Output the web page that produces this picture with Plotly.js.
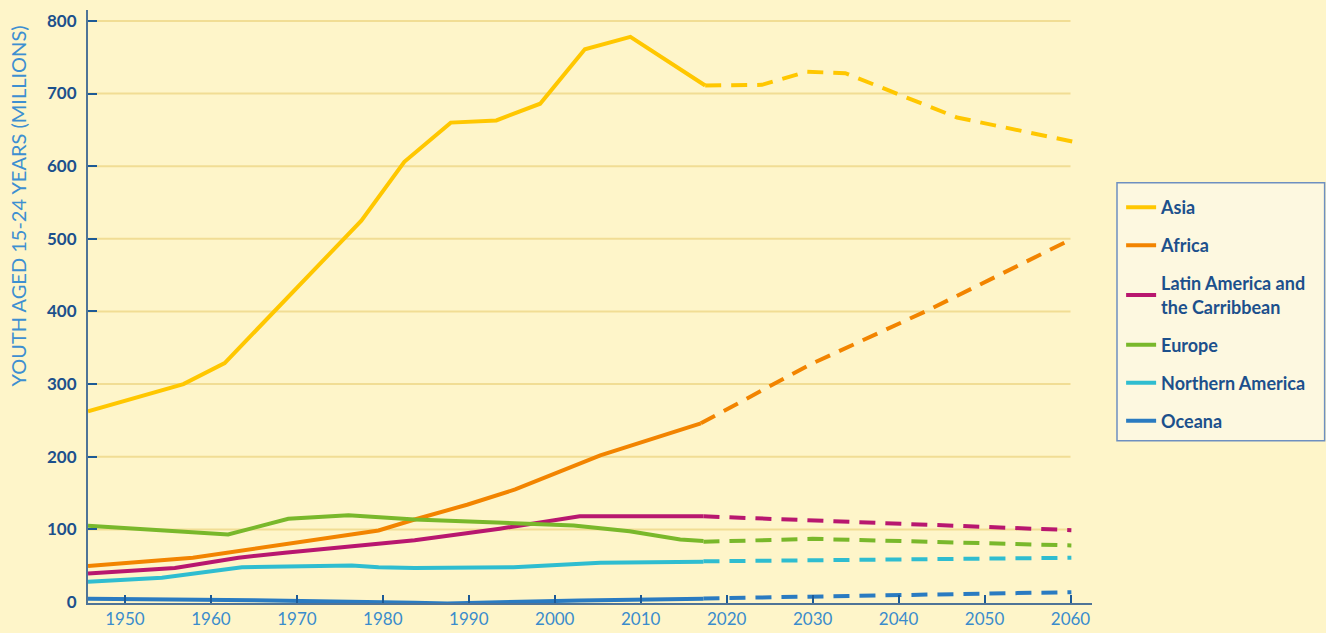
<!DOCTYPE html>
<html>
<head>
<meta charset="utf-8">
<script src="https://cdn.plot.ly/plotly-3.0.1.min.js"></script>
<style>
  html, body { margin: 0; padding: 0; background: #fef5c9; }
  #chart { width: 1326px; height: 633px; }
</style>
</head>
<body>
<div id="chart"></div>
<script>
// ---- Data ----
const regions = ["Asia", "Africa", "Latin America and<br>the Carribbean", "Europe", "Northern America", "Oceana"];
const colors = ["#ffc700", "#f28400", "#b8176f", "#79b82b", "#2fbdd0", "#2a7bc1"];

// Estimates (solid lines)
const asiaYears   = [1945.7, 1956.8, 1961.6, 1977.5, 1982.5, 1987.9, 1993.2, 1998.3, 2003.5, 2008.8, 2017.5];
const asiaVals    = [262.6, 300, 329, 525, 606, 660, 663, 686, 761, 778, 711];
const africaYears = [1945.7, 1957.9, 1979.5, 1983.7, 1989.8, 1995.4, 2005.3, 2017.0];
const africaVals  = [49.5, 61, 98.5, 113.6, 134, 155, 202, 246];
const latamYears  = [1945.7, 1955.8, 1963.2, 1968.6, 1983.7, 1993.6, 2002.9, 2017.3];
const latamVals   = [39.3, 47, 61, 68, 85, 101, 118, 118];
const europeYears = [1945.7, 1962.0, 1969.0, 1976.0, 1983.7, 1993.6, 2002.2, 2008.7, 2014.6, 2017.3];
const europeVals  = [105, 93, 114.6, 119.5, 113.6, 109, 105.4, 97.5, 86, 84];
const namYears    = [1945.7, 1954.3, 1963.6, 1976.4, 1979.5, 1983.7, 1995.2, 2005.3, 2017.3];
const namVals     = [28, 33.4, 48, 50.3, 48, 47, 48, 54, 55.4];
const oceYears    = [1945.7, 1965.0, 1983.7, 1987.5, 2002.9, 2017.3];
const oceVals     = [4.5, 2.5, -1, -2, 2.2, 4.5];

// Projections (dashed lines)
const asiaProjYears   = [2017.5, 2024.1, 2029.3, 2033.8, 2046.8, 2060.2];
const asiaProjVals    = [711, 712, 730, 728, 667, 634];
const africaProjYears = [2017.0, 2029.7, 2043.3, 2060.2];
const africaProjVals  = [246, 327, 401, 500];
const latamProjYears  = [2017.3, 2060.1];
const latamProjVals   = [118, 99];
const europeProjYears = [2017.3, 2030.0, 2060.1];
const europeProjVals  = [83, 87, 78];
const namProjYears    = [2017.3, 2060.1];
const namProjVals     = [56, 61];
const oceProjYears    = [2017.3, 2060.1];
const oceProjVals     = [5, 13.6];

const xTicks = [1950, 1960, 1970, 1980, 1990, 2000, 2010, 2020, 2030, 2040, 2050, 2060];
const yTicks = [0, 100, 200, 300, 400, 500, 600, 700, 800];

const solid = [[asiaYears, asiaVals], [africaYears, africaVals], [latamYears, latamVals],
               [europeYears, europeVals], [namYears, namVals], [oceYears, oceVals]];
const proj  = [[asiaProjYears, asiaProjVals], [africaProjYears, africaProjVals], [latamProjYears, latamProjVals],
               [europeProjYears, europeProjVals], [namProjYears, namProjVals], [oceProjYears, oceProjVals]];

const traces = [];
regions.forEach((name, i) => {
  traces.push({
    x: solid[i][0], y: solid[i][1], name: name, type: "scatter", mode: "lines",
    line: { color: colors[i], width: 4 }, legendgroup: "g" + i, legendrank: i + 1,
    hoverinfo: "skip"
  });
  traces.push({
    x: proj[i][0], y: proj[i][1], name: name, type: "scatter", mode: "lines",
    line: { color: colors[i], width: 4, dash: "16px,10px" }, legendgroup: "g" + i,
    showlegend: false, hoverinfo: "skip"
  });
});

const gridShapes = yTicks.filter(v => v > 0).map(v => ({
  type: "line", xref: "x", yref: "y", x0: 1945.7, x1: 2060, y0: v, y1: v,
  line: { color: "#f1dd94", width: 2 }, layer: "below"
}));

// legend frame (box wider than the auto-sized legend)
gridShapes.push({
  type: "rect", xref: "paper", yref: "paper",
  x0: 1.0249, x1: 1.2317, y0: 0.2735, y1: 0.7085,
  fillcolor: "#fdf8e0", line: { color: "#6e8fc0", width: 1.5 }, layer: "below"
});

const font = "Lato, 'Open Sans', sans-serif";

const layout = {
  width: 1326, height: 633,
  paper_bgcolor: "#fef5c9", plot_bgcolor: "#fef5c9",
  margin: { l: 88, r: 234, t: 10, b: 29.5 },
  font: { family: font, color: "#1c508c" },
  showlegend: true,
  xaxis: {
    range: [1945.7, 2062.5], tickvals: xTicks, ticktext: xTicks.map(String),
    showgrid: false, zeroline: false,
    showline: true, linecolor: "#4f7497", linewidth: 2,
    ticks: "inside", ticklen: 8, tickwidth: 2, tickcolor: "#1d5a96",
    tickfont: { family: font, size: 17, color: "#3a8ccc" },
    ticklabelstandoff: 0
  },
  yaxis: {
    range: [-1.3, 815], tickvals: yTicks, ticktext: yTicks.map(String),
    showgrid: false, zeroline: false,
    showline: true, linecolor: "#4f7497", linewidth: 2,
    ticks: "inside", ticklen: 9, tickwidth: 2, tickcolor: "#1d5a96",
    tickfont: { family: font, size: 17, color: "#1c508c", weight: "bold" },
    ticklabelstandoff: 6
  },
  shapes: gridShapes,
  annotations: [{
    text: "YOUTH AGED 15-24 YEARS (MILLIONS)", xref: "paper", yref: "paper",
    x: -0.07, y: 0.67, textangle: -90, showarrow: false,
    xanchor: "center", yanchor: "middle",
    font: { family: font, size: 20, color: "#3d8fd1" }
  }],
  legend: {
    x: 1.029, y: 0.7068, xanchor: "left", yanchor: "top",
    bgcolor: "rgba(0,0,0,0)", borderwidth: 0,
    font: { family: font, size: 18, color: "#1c508c", weight: "bold" },
    traceorder: "grouped", tracegroupgap: 11.6, itemwidth: 30,
    title: { text: " ", font: { size: 4 } }
  }
};

Plotly.newPlot("chart", traces, layout, { displayModeBar: false, staticPlot: true });
</script>
</body>
</html>
